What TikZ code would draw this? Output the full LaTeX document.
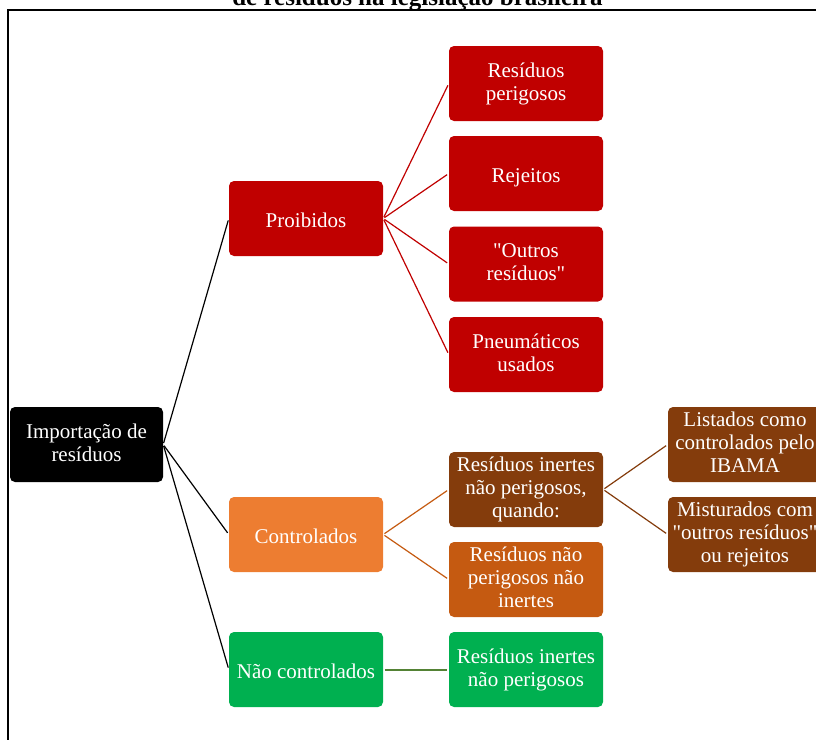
\documentclass[tikz,border=0pt]{standalone}
\usepackage{fontspec}
\setmainfont{Liberation Serif}[Ligatures=TeXOff]
\usetikzlibrary{positioning}

\definecolor{vermelho}{HTML}{C00000}
\definecolor{laranja}{HTML}{ED7D31}
\definecolor{laranjaescuro}{HTML}{C55A11}
\definecolor{marrom}{HTML}{843C0C}
\definecolor{verde}{HTML}{00B050}
\definecolor{verdeescuro}{HTML}{548235}

% apoio de linha com a altura e a profundidade da fonte
\newcommand{\apoio}{\rule[-4pt]{0pt}{26pt}}

\begin{document}
\begin{tikzpicture}[x=1pt, y=-1pt,
		box/.style={rectangle, rounded corners=5pt, draw=none, text centered, align=center,
			minimum width=154pt, minimum height=75pt, inner sep=0pt, text=white,
			font=\fontsize{21}{23}\selectfont,
			execute at begin node=\apoio, execute at end node=\apoio},
		raiz/.style={box, fill=black, minimum width=153pt},
		proib/.style={box, fill=vermelho},
		contr/.style={box, fill=laranja},
		livre/.style={box, fill=verde},
		cond/.style={box, fill=marrom},
		naoinerte/.style={box, fill=laranjaescuro},
		ramo/.style={line width=1.2pt, shorten <=1.5pt, shorten >=2pt}
]
\useasboundingbox (0,0) rectangle (816,739);
\clip (0,0) rectangle (816,739);

\draw[line width=1.6pt] (8,10) rectangle (840,760);
\node[anchor=base, font=\bfseries\fontsize{25}{28}\selectfont] (Titulo) at (417.5,5) {de resíduos na legislação brasileira};

\node [raiz] (Root) at (86.5,444.5) {Importação de\\resíduos};

\node [proib] (Proibidos) at (306,218.5) {Proibidos};
\node [contr] (Controlados) at (306,534.5) {Controlados};
\node [livre] (NaoControlados) at (306,669.5) {Não controlados};

\node [proib] (Perigosos) at (526,83.5) {Resíduos\\perigosos};
\node [proib] (Rejeitos) at (526,173.5) {Rejeitos};
\node [proib] (Outros) at (526,264) {"Outros\\resíduos"};
\node [proib] (Pneus) at (526,354.5) {Pneumáticos\\usados};

\node [cond] (Inertes) at (526,489.5) {Resíduos inertes\\não perigosos,\\quando:};
\node [naoinerte] (NaoInertes) at (526,579.5) {Resíduos não\\perigosos não\\inertes};
\node [livre] (InertesLivres) at (526,669.5) {Resíduos inertes\\não perigosos};

\node [cond] (Listados) at (745,444.5) {Listados como\\controlados pelo\\IBAMA};
\node [cond] (Misturados) at (745,534.5) {Misturados com\\"outros resíduos"\\ou rejeitos};

% ligacoes
\foreach \filho in {Proibidos, Controlados, NaoControlados}
	\draw [ramo, black] (Root.east) -- (\filho.west);
\foreach \filho in {Perigosos, Rejeitos, Outros, Pneus}
	\draw [ramo, vermelho] (Proibidos.east) -- (\filho.west);
\foreach \filho in {Inertes, NaoInertes}
	\draw [ramo, laranjaescuro] (Controlados.east) -- (\filho.west);
\foreach \filho in {Listados, Misturados}
	\draw [ramo, marrom] (Inertes.east) -- (\filho.west);
\draw [ramo, verdeescuro, line width=2pt] (NaoControlados.east) -- (InertesLivres.west);

\end{tikzpicture}
\end{document}
